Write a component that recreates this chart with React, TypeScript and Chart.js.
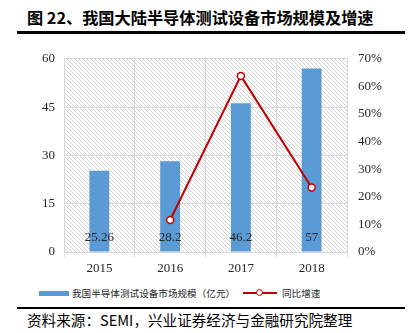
import React, { useEffect, useRef } from "react";
import { Chart, registerables } from "chart.js";

Chart.register(...registerables);

const categories = ["2015", "2016", "2017", "2018"];
const marketSize = [25.26, 28.2, 46.2, 57];
const growth = [null, 0.116, 0.638, 0.234];
const leftTicks = [0, 15, 30, 45, 60];
const rightTicks = [0, 0.1, 0.2, 0.3, 0.4, 0.5, 0.6, 0.7];

const SERIF = '"Liberation Serif", "Times New Roman", "Noto Sans CJK SC", serif';
const CJK = '"Noto Sans CJK SC", "Liberation Serif", serif';

function makePattern(): CanvasPattern | string {
  const c = document.createElement("canvas");
  c.width = 4;
  c.height = 4;
  const g = c.getContext("2d");
  if (!g) return "#fff";
  g.fillStyle = "#ffffff";
  g.fillRect(0, 0, 4, 4);
  g.strokeStyle = "#d6d6d6";
  g.lineWidth = 1;
  g.beginPath();
  g.moveTo(-1, -1);
  g.lineTo(5, 5);
  g.moveTo(-1, 3);
  g.lineTo(1, 5);
  g.moveTo(3, -1);
  g.lineTo(5, 1);
  g.stroke();
  const p = g.createPattern(c, "repeat");
  return p || "#fff";
}

const hatchPlugin = {
  id: "hatch",
  beforeDraw(chart: any) {
    const { ctx, chartArea } = chart;
    ctx.save();
    ctx.fillStyle = makePattern();
    ctx.fillRect(chartArea.left, chartArea.top, chartArea.right - chartArea.left, chartArea.bottom - chartArea.top);
    ctx.restore();
  },
};

const valueLabelPlugin = {
  id: "valueLabels",
  afterDatasetsDraw(chart: any) {
    const meta = chart.getDatasetMeta(0);
    const { ctx } = chart;
    ctx.save();
    ctx.font = "13px " + SERIF;
    ctx.fillStyle = "#262626";
    ctx.textAlign = "center";
    ctx.textBaseline = "middle";
    meta.data.forEach((bar: any, i: number) => {
      ctx.fillText(String(marketSize[i]), bar.x, bar.base - 14);
    });
    ctx.restore();
  },
};

export default function App() {
  const ref = useRef<HTMLCanvasElement>(null);
  useEffect(() => {
    if (!ref.current) return;
    const chart = new Chart(ref.current, {
      type: "bar",
      data: {
        labels: categories,
        datasets: [
          {
            type: "bar",
            label: "我国半导体测试设备市场规模（亿元）",
            data: marketSize,
            backgroundColor: "#5b9bd5",
            barPercentage: 0.28,
            categoryPercentage: 1,
            yAxisID: "y",
            order: 2,
          },
          {
            type: "line",
            label: "同比增速",
            data: growth,
            borderColor: "#c00000",
            borderWidth: 2,
            pointRadius: 3.5,
            pointBackgroundColor: "#ffffff",
            pointBorderColor: "#c00000",
            pointBorderWidth: 1.5,
            yAxisID: "y1",
            order: 1,
          } as any,
        ],
      },
      options: {
        animation: false,
        responsive: false,
        maintainAspectRatio: false,
        layout: { padding: { top: 17, left: 0, right: 0, bottom: 0 } },
        plugins: { legend: { display: false }, tooltip: { enabled: false } },
        scales: {
          x: {
            grid: { color: "#d9d9d9", offset: true, drawTicks: true, tickLength: 5, tickColor: "#d9d9d9" },
            border: { color: "#d9d9d9" },
            ticks: { font: { family: SERIF, size: 13 }, color: "#262626", padding: 4 },
            afterFit(s: any) { s.height = 28; },
          },
          y: {
            position: "left",
            min: 0,
            max: 60,
            afterBuildTicks(s: any) { s.ticks = leftTicks.map((v) => ({ value: v })); },
            grid: { color: "#d9d9d9", drawTicks: false },
            border: { color: "#d9d9d9" },
            ticks: { font: { family: SERIF, size: 13 }, color: "#262626", padding: 9 },
            afterFit(s: any) { s.width = 64; },
          },
          y1: {
            position: "right",
            min: 0,
            max: 0.7,
            afterBuildTicks(s: any) { s.ticks = rightTicks.map((v) => ({ value: v })); },
            grid: { display: false, drawTicks: false },
            border: { color: "#d9d9d9" },
            ticks: {
              font: { family: SERIF, size: 13 },
              color: "#262626",
              padding: 11,
              callback: (v: any) => Math.round(Number(v) * 100) + "%",
            },
            afterFit(s: any) { s.width = 66; },
          },
        },
      },
      plugins: [hatchPlugin, valueLabelPlugin],
    });
    return () => chart.destroy();
  }, []);

  return (
    <div style={{ position: "fixed", left: 0, top: 0, width: 413, height: 333, background: "#fff", overflow: "hidden" }}>
      <div style={{ position: "absolute", left: 27, top: 7, fontFamily: CJK, fontWeight: "bold", fontSize: 16.2, lineHeight: "20px", color: "#000", whiteSpace: "nowrap" }}>
        图 22、我国大陆半导体测试设备市场规模及增速
      </div>
      <div style={{ position: "absolute", left: 17, top: 31, width: 388, height: 3, background: "#000" }} />
      <canvas ref={ref} width={413} height={240} style={{ position: "absolute", left: 0, top: 40, width: 413, height: 240 }} />
      <div style={{ position: "absolute", left: 39, top: 291, width: 30, height: 5, background: "#5b9bd5" }} />
      <div style={{ position: "absolute", left: 72, top: 286, fontFamily: CJK, fontSize: 9.6, lineHeight: "14px", color: "#262626", whiteSpace: "nowrap" }}>
        我国半导体测试设备市场规模（亿元）
      </div>
      <div style={{ position: "absolute", left: 243, top: 292, width: 34, height: 2, background: "#c00000" }} />
      <div style={{ position: "absolute", left: 256, top: 289, width: 5, height: 5, borderRadius: "50%", border: "1.5px solid #c00000", background: "#fff" }} />
      <div style={{ position: "absolute", left: 282, top: 286, fontFamily: CJK, fontSize: 9.6, lineHeight: "14px", color: "#262626", whiteSpace: "nowrap" }}>
        同比增速
      </div>
      <div style={{ position: "absolute", left: 17, top: 307, width: 388, height: 2, background: "#000" }} />
      <div style={{ position: "absolute", left: 27, top: 311, fontFamily: CJK, fontSize: 14.6, lineHeight: "18px", color: "#000", whiteSpace: "nowrap" }}>
        资料来源：SEMI，兴业证券经济与金融研究院整理
      </div>
    </div>
  );
}
